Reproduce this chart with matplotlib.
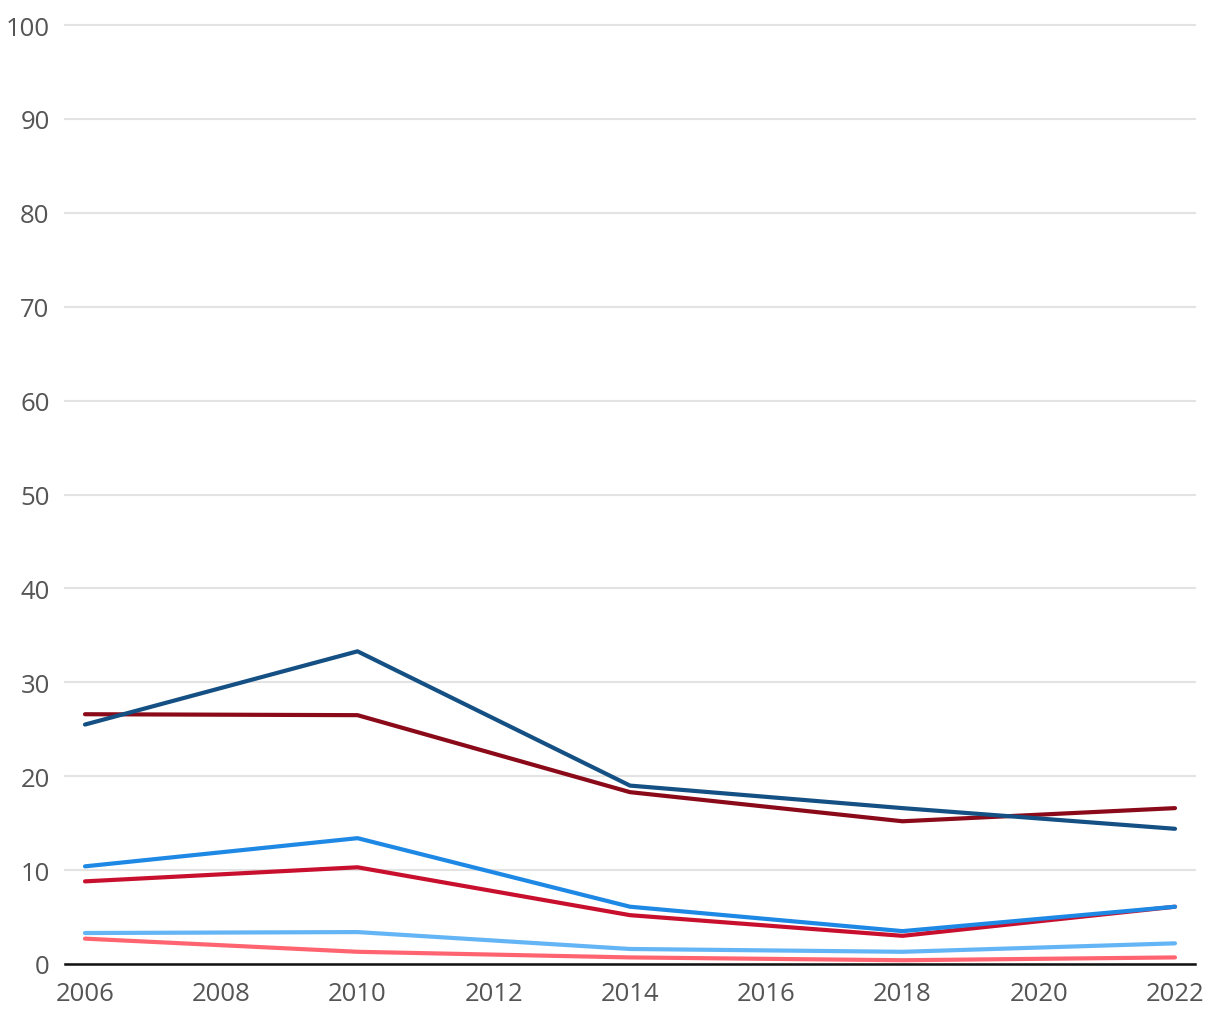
import matplotlib
matplotlib.use('Agg')
import matplotlib.pyplot as plt

years = [2006, 2010, 2014, 2018, 2022]

# series values
dark_blue = [25.5, 33.3, 19.0, 16.6, 14.4]
dark_red = [26.6, 26.5, 18.3, 15.2, 16.6]
mid_blue = [10.4, 13.4, 6.1, 3.5, 6.1]
red = [8.8, 10.3, 5.2, 3.0, 6.1]
light_blue = [3.3, 3.4, 1.6, 1.3, 2.2]
light_red = [2.7, 1.3, 0.7, 0.4, 0.7]

x_ticks = list(range(2006, 2023, 2))
y_ticks = list(range(0, 101, 10))

plt.rcParams['font.family'] = ['Open Sans', 'DejaVu Sans']

fig = plt.figure(figsize=(12.2, 10.2), dpi=100)
ax = fig.add_axes([65 / 1220, 55 / 1020, 1130 / 1220, 939 / 1020])

series = [
    (light_red, '#ff6470'),
    (light_blue, '#64b5f6'),
    (red, '#c8102e'),
    (mid_blue, '#1e88e5'),
    (dark_red, '#8b0a1a'),
    (dark_blue, '#145083'),
]
for vals, col in series:
    ax.plot(years, vals, color=col, lw=3, solid_capstyle='round', zorder=3)

ax.set_xlim(2006 - 20 / 68.125, 2022 + 20 / 68.125)
ax.set_ylim(0, 100)
ax.set_xticks(x_ticks)
ax.set_yticks(y_ticks)
ax.yaxis.grid(True, color='#e3e3e3', lw=1.5, zorder=0)
ax.set_axisbelow(True)
for s in ['top', 'right', 'left']:
    ax.spines[s].set_visible(False)
ax.spines['bottom'].set_color('#111111')
ax.spines['bottom'].set_linewidth(1.8)
ax.spines['bottom'].set_zorder(4)
ax.tick_params(axis='both', length=0, labelsize=18.5, labelcolor='#555555')
ax.tick_params(axis='y', pad=11)
ax.tick_params(axis='x', pad=12)
for gl in ax.get_ygridlines():
    gl.set_clip_on(False)

fig.savefig('out.png', dpi=100)
plt.close()
